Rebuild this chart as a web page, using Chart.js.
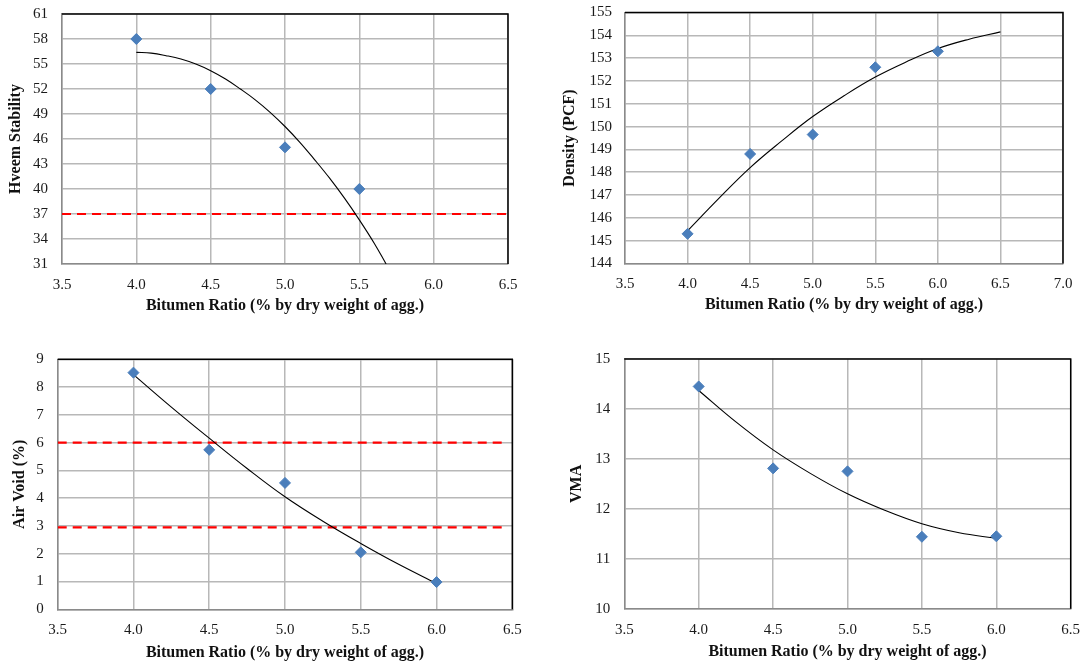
<!DOCTYPE html>
<html>
<head>
<meta charset="utf-8">
<script src="https://cdn.jsdelivr.net/npm/chart.js@4.4.1/dist/chart.umd.min.js"></script>
<style>
  html, body { margin: 0; padding: 0; background: #ffffff; }
  body { width: 1081px; height: 669px; position: relative; overflow: hidden; }
  .box { position: absolute; }
</style>
</head>
<body>
<div class="box" style="left:0px;top:0px;width:540px;height:330px;"><canvas id="c1"></canvas></div>
<div class="box" style="left:540px;top:0px;width:541px;height:330px;"><canvas id="c2"></canvas></div>
<div class="box" style="left:0px;top:330px;width:540px;height:339px;"><canvas id="c3"></canvas></div>
<div class="box" style="left:540px;top:330px;width:541px;height:339px;"><canvas id="c4"></canvas></div>
<script>
// ---------- Data ----------
const xAxisTitle = "Bitumen Ratio (% by dry weight of agg.)";

// Chart 1: Hveem Stability
const hveemX = [4.0, 4.5, 5.0, 5.5];
const hveemY = [58, 52, 45, 40];
const hveemTrendX = [4.0, 4.1, 4.2, 4.3, 4.4, 4.5, 4.6, 4.7, 4.8, 4.9, 5.0, 5.1, 5.2, 5.3, 5.4, 5.5, 5.6, 5.68];
const hveemTrendY = [56.4, 56.3, 56.0, 55.6, 55.0, 54.2, 53.2, 52.0, 50.7, 49.2, 47.5, 45.6, 43.5, 41.3, 38.9, 36.3, 33.5, 31.0];
const hveemLimitX = [3.5, 6.5];
const hveemLimitY = [37, 37];

// Chart 2: Density (PCF)
const densityX = [4.0, 4.5, 5.0, 5.5, 6.0];
const densityY = [145.3, 148.8, 149.65, 152.6, 153.3];
const densityTrendX = [4.0, 4.25, 4.5, 4.75, 5.0, 5.25, 5.5, 5.75, 6.0, 6.25, 6.5];
const densityTrendY = [145.43, 146.85, 148.2, 149.36, 150.44, 151.35, 152.17, 152.84, 153.42, 153.83, 154.15];

// Chart 3: Air Void (%)
const airX = [4.0, 4.5, 5.0, 5.5, 6.0];
const airY = [8.52, 5.74, 4.55, 2.05, 0.98];
const airTrendX = [4.0, 4.25, 4.5, 4.75, 5.0, 5.25, 5.5, 5.75, 6.0];
const airTrendY = [8.45, 7.28, 6.16, 5.07, 4.05, 3.17, 2.37, 1.62, 0.93];
const airLimitX = [3.5, 6.44];
const airUpperY = [6.0, 6.0];
const airLowerY = [2.95, 2.95];

// Chart 4: VMA
const vmaX = [4.0, 4.5, 5.0, 5.5, 6.0];
const vmaY = [14.45, 12.81, 12.75, 11.44, 11.45];
const vmaTrendX = [4.0, 4.25, 4.5, 4.75, 5.0, 5.25, 5.5, 5.75, 6.0];
const vmaTrendY = [14.37, 13.74, 13.18, 12.71, 12.3, 11.97, 11.7, 11.52, 11.41];

// ---------- Helpers ----------
const pts = (xs, ys) => xs.map((x, i) => ({ x: x, y: ys[i] }));
const FONT = "'Liberation Serif', 'Times New Roman', serif";
const TICK_COLOR = '#1a1a1a';
const GRID_COLOR = '#b8b8b8';
const AXIS_COLOR = '#8a8a8a';
const MARKER = '#4a7ebb';

const frame = {
  id: 'frame',
  afterDatasetsDraw(chart) {
    const { ctx, chartArea: a } = chart;
    ctx.save();
    ctx.strokeStyle = '#000000';
    ctx.lineWidth = 1.5;
    ctx.beginPath();
    ctx.moveTo(a.left, a.top);
    ctx.lineTo(a.right, a.top);
    ctx.lineTo(a.right, a.bottom);
    ctx.stroke();
    ctx.restore();
  }
};

function markerSet(data) {
  return {
    type: 'scatter', data: data, order: 0,
    pointStyle: 'rectRot', pointRadius: 5.5, pointHoverRadius: 5.5,
    backgroundColor: MARKER, borderColor: MARKER, borderWidth: 1, showLine: false
  };
}
function trendSet(data) {
  return {
    type: 'scatter', data: data, order: 1, showLine: true,
    borderColor: '#000000', borderWidth: 1.1, pointRadius: 0,
    tension: 0.4, fill: false
  };
}
function limitSet(data) {
  return {
    type: 'scatter', data: data, order: 2, showLine: true,
    borderColor: '#ff0000', borderWidth: 2.2, borderDash: [9, 6],
    pointRadius: 0, fill: false
  };
}

function makeChart(id, cfg) {
  const xTicksCb = v => Number(v).toFixed(1);
  new Chart(document.getElementById(id), {
    type: 'scatter',
    data: { datasets: cfg.datasets },
    plugins: [frame],
    options: {
      responsive: true,
      maintainAspectRatio: false,
      animation: false,
      events: [],
      layout: { padding: { top: cfg.padTop, right: cfg.padRight, left: 0, bottom: 0 } },
      plugins: { legend: { display: false }, tooltip: { enabled: false } },
      scales: {
        x: {
          type: 'linear', position: 'bottom',
          min: cfg.xMin, max: cfg.xMax,
          afterFit: s => { s.height = cfg.xAxisH; s.paddingLeft = 0; s.paddingRight = 0; },
          ticks: {
            stepSize: 0.5, callback: xTicksCb, maxRotation: 0, autoSkip: false,
            padding: 12, color: TICK_COLOR, font: { family: FONT, size: 15 }
          },
          grid: { color: GRID_COLOR, lineWidth: 1.5, drawTicks: false },
          border: { color: AXIS_COLOR, width: 1.5 },
          title: {
            display: true, text: xAxisTitle, color: '#111111',
            font: { family: FONT, size: 16, weight: 'bold' },
            padding: { top: 0, bottom: cfg.xTitlePad }
          }
        },
        y: {
          type: 'linear', position: 'left',
          min: cfg.yMin, max: cfg.yMax,
          afterFit: s => { s.width = cfg.yAxisW; s.paddingTop = 0; s.paddingBottom = 0; },
          ticks: {
            stepSize: cfg.yStep, padding: cfg.yTickPad, color: TICK_COLOR,
            font: { family: FONT, size: 15 }
          },
          grid: { color: GRID_COLOR, lineWidth: 1.5, drawTicks: false },
          border: { color: AXIS_COLOR, width: 1.5 },
          title: {
            display: true, text: cfg.yTitle, color: '#111111',
            font: { family: FONT, size: 16, weight: 'bold' },
            padding: { top: cfg.yTitlePad, bottom: 0 }
          }
        }
      }
    }
  });
}

makeChart('c1', {
  datasets: [markerSet(pts(hveemX, hveemY)), trendSet(pts(hveemTrendX, hveemTrendY)), limitSet(pts(hveemLimitX, hveemLimitY))],
  xMin: 3.5, xMax: 6.5, yMin: 31, yMax: 61, yStep: 3,
  yTitle: 'Hveem Stability',
  padTop: 14, padRight: 32, yAxisW: 62, xAxisH: 66, xTitlePad: 14.4, yTitlePad: 5.9, yTickPad: 14
});

makeChart('c2', {
  datasets: [markerSet(pts(densityX, densityY)), trendSet(pts(densityTrendX, densityTrendY))],
  xMin: 3.5, xMax: 7.0, yMin: 144, yMax: 155, yStep: 1,
  yTitle: 'Density (PCF)',
  padTop: 12.5, padRight: 18, yAxisW: 85, xAxisH: 66.5, xTitlePad: 15.4, yTitlePad: 20.4, yTickPad: 13
});

makeChart('c3', {
  datasets: [markerSet(pts(airX, airY)), trendSet(pts(airTrendX, airTrendY)),
             limitSet(pts(airLimitX, airUpperY)), limitSet(pts(airLimitX, airLowerY))],
  xMin: 3.5, xMax: 6.5, yMin: 0, yMax: 9, yStep: 1,
  yTitle: 'Air Void (%)',
  padTop: 29.3, padRight: 27.7, yAxisW: 57.7, xAxisH: 59.7, xTitlePad: 6.4, yTitlePad: 10.2, yTickPad: 14
});

makeChart('c4', {
  datasets: [markerSet(pts(vmaX, vmaY)), trendSet(pts(vmaTrendX, vmaTrendY))],
  xMin: 3.5, xMax: 6.5, yMin: 10, yMax: 15, yStep: 1,
  yTitle: 'VMA',
  padTop: 29, padRight: 10.3, yAxisW: 84.3, xAxisH: 60.3, xTitlePad: 7.9, yTitlePad: 26.9, yTickPad: 14
});
</script>
</body>
</html>
